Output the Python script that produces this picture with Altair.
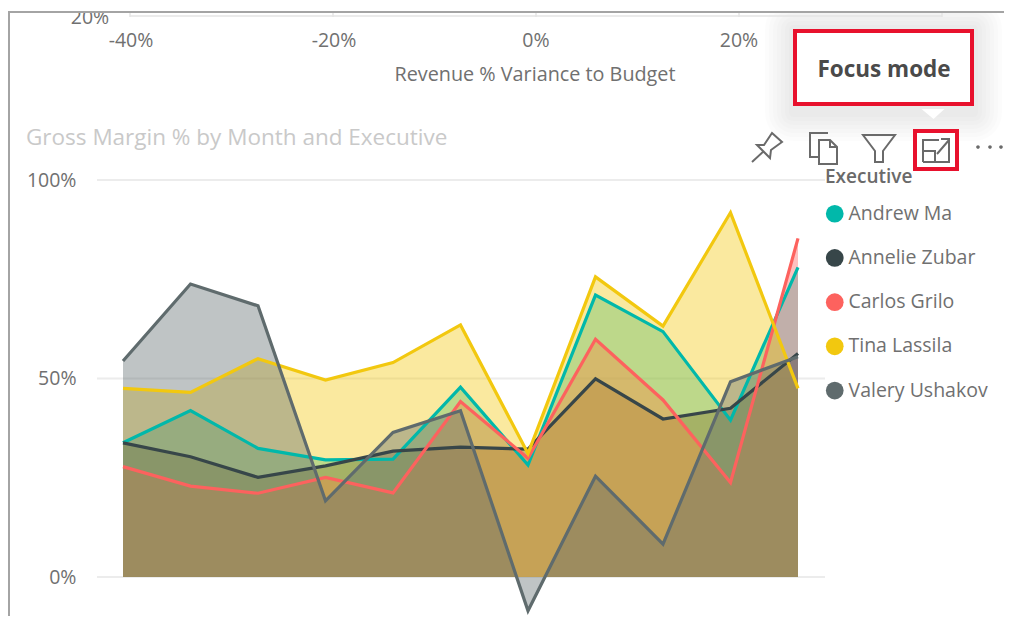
import altair as alt
import pandas as pd

months = list(range(1, 12))
executives = ["Andrew Ma", "Annelie Zubar", "Carlos Grilo", "Tina Lassila", "Valery Ushakov"]
colors = ["#01B8AA", "#374649", "#FD625E", "#F2C80F", "#5F6B6D"]
andrew = [33.8, 41.9, 32.4, 29.5, 29.7, 47.8, 28.2, 71.0, 61.8, 39.5, 78.0]
annelie = [33.8, 30.3, 25.1, 28.0, 31.7, 32.7, 32.2, 49.9, 39.8, 42.5, 56.3]
carlos = [27.8, 22.9, 21.1, 25.1, 21.2, 44.2, 29.9, 59.9, 44.6, 23.8, 85.3]
tina = [47.5, 46.5, 55.0, 49.6, 54.0, 63.5, 31.1, 75.6, 63.2, 91.8, 47.5]
valery = [54.4, 73.8, 68.3, 19.2, 36.4, 41.9, -8.5, 25.4, 8.3, 49.2, 55.5]
y_ticks = [0, 50, 100]
scatter_ticks = ["-40%", "-20%", "0%", "20%"]

FONT = "Open Sans"
W, H = 996, 608
PER = 3.97
STEP = 67.5
x_scale = alt.Scale(domain=[1 - 115 / STEP, 1 + (W - 115) / STEP], nice=False, zero=False)
y_scale = alt.Scale(domain=[-(H - 569) / PER, 569 / PER], nice=False, zero=False)

rows = []
for name, vals in zip(executives, [andrew, annelie, carlos, tina, valery]):
    for m, v in zip(months, vals):
        rows.append({"Month": m, "Executive": name, "Gross Margin %": v})
df = pd.DataFrame(rows)

X = alt.X("Month:Q", scale=x_scale, axis=None)
Y = alt.Y("Gross Margin %:Q", scale=y_scale, stack=None, axis=None)
color_scale = alt.Scale(domain=executives, range=colors)


def px(v):
    return alt.value(v - 8)


def text(s, x, y, size, color="#707070", align="center", weight="normal"):
    return alt.Chart(pd.DataFrame({"t": [s]})).mark_text(
        font=FONT, fontSize=size, color=color, align=align, baseline="middle", fontWeight=weight
    ).encode(text="t:N", x=px(x), y=px(y))


def box(x, x2, y, y2, **kw):
    return alt.Chart(pd.DataFrame({"a": [0]})).mark_rect(**kw).encode(
        x=px(x), x2=px(x2), y=px(y), y2=px(y2)
    )


def hv(x, x2, y, y2, color, width):
    return alt.Chart(pd.DataFrame({"a": [0]})).mark_rule(color=color, strokeWidth=width).encode(
        x=px(x), x2=px(x2), y=px(y), y2=px(y2)
    )


def icon(path, x, y, color="#6a6a6a", width=2.0, filled=False):
    kw = dict(fill=color, strokeWidth=0, opacity=1) if filled else dict(fill=None, stroke=color, strokeWidth=width, opacity=1)
    return alt.Chart(pd.DataFrame({"a": [0]})).mark_point(shape=path, size=4, **kw).encode(x=px(x), y=px(y))


frame = [
    box(8, 1004, 8, 12, fill="#ffffff"),
    hv(8, 1004, 12, 12, "#a4a4a4", 2),
    hv(9, 9, 12, 616, "#a4a4a4", 2),
]

top_axis = [hv(130, 942, 16, 16, "#e4e4e4", 1.5)]
for tx in [130, 333, 536, 739, 942]:
    top_axis.append(hv(tx, tx, 13, 17, "#e4e4e4", 1.5))
top_axis.append(text("20%", 90, 18, 19.5))
for s, tx in zip(scatter_ticks, [131, 334, 536, 739]):
    top_axis.append(text(s, tx, 41, 19.5))
top_axis.append(text("Revenue % Variance to Budget", 535, 75, 19.8))

title = text("Gross Margin % by Month and Executive", 26, 138, 22.5, color="#c9c9c9", align="left")

grid = alt.Chart(pd.DataFrame({"v": y_ticks})).mark_rule(color="#ececec", strokeWidth=2).encode(
    y=alt.Y("v:Q", scale=y_scale, axis=alt.Axis(
        values=y_ticks, domain=False, ticks=False, grid=False, title=None, offset=-72, labelPadding=4,
        labelExpr="datum.value + '%'", labelFont=FONT, labelFontSize=19.5, labelColor="#707070")),
    x=px(97), x2=px(825),
)

areas = alt.Chart(df).mark_area(opacity=0.4).encode(
    x=X, y=Y, color=alt.Color("Executive:N", scale=color_scale, legend=None)
)
lines = alt.Chart(df).mark_line(strokeWidth=3.2, strokeJoin="miter").encode(
    x=X, y=Y, color=alt.Color("Executive:N", scale=color_scale, legend=None)
)
legend_src = alt.Chart(df).mark_circle(size=0, opacity=1).encode(
    x=X, y=Y,
    color=alt.Color("Executive:N", scale=color_scale, legend=alt.Legend(
        orient="none", legendX=817, legendY=160, title="Executive", titleFont=FONT, titleFontSize=19,
        titleColor="#6a6a6a", titleFontWeight=600, titlePadding=17, labelFont=FONT, labelFontSize=19.5,
        labelColor="#707070", symbolType="circle", symbolSize=314, symbolStrokeWidth=0, labelOffset=4,
        rowPadding=23.2, symbolOpacity=1)),
)

shadow = [
    box(793 - d, 974 + d, 29 - d, 105 + d + 8, fill="#000000", opacity=0.012, cornerRadius=d)
    for d in [28, 24, 20, 16, 12, 8, 4]
]
callout = [
    icon("M-12,-5 L11,-5 L0,5 Z", 933.5, 114, color="#ffffff", filled=True),
    box(795, 972, 31, 104, fill="#ffffff", stroke="#E8112D", strokeWidth=4),
    text("Focus mode", 884, 69.5, 22.5, color="#4a4a4a", weight="bold"),
]

icons = [
    icon("M-10,-3 L-3,-3 L5,-15 L15,-6 L4,2 L3,10 Z M-15,14 L-3,3", 767, 148),
    icon("M6,-15 L-12,-15 L-12,9 L-3,9 M-3,-8 L8,-8 L15,-1 L15,16 L-3,16 Z M8,-8 L8,-1 L15,-1", 822, 148),
    icon("M-16,-13 L16,-13 L4,3 L4,14 L-4,14 L-4,3 Z", 879, 148),
    box(915, 957, 131, 169, fill="#ffffff", stroke="#E8112D", strokeWidth=4),
    icon("M-13,14 L-13,-8 L3,-8 M-13,3 L-1,3 L-1,14 M-13,14 L13,14 L13,-1 M1,6 L13,-8 M5,-9 L13,-9 L13,0", 936, 148),
    icon("M-1.8,0 a1.8,1.8 0 1,0 3.6,0 a1.8,1.8 0 1,0 -3.6,0 Z", 978, 147, filled=True),
    icon("M-1.8,0 a1.8,1.8 0 1,0 3.6,0 a1.8,1.8 0 1,0 -3.6,0 Z", 990, 147, filled=True),
    icon("M-1.8,0 a1.8,1.8 0 1,0 3.6,0 a1.8,1.8 0 1,0 -3.6,0 Z", 1001, 147, filled=True),
]

layers = shadow + top_axis + frame + [title, grid, areas, lines, legend_src] + callout + icons
chart = alt.layer(*layers).resolve_legend(color="independent").resolve_axis(y="independent").properties(
    width=W, height=H, padding=0, autosize=alt.AutoSizeParams(type="none"), background="#ffffff"
).configure_view(stroke=None)

chart.save("out.html", embed_options={"renderer": "svg", "actions": False})
